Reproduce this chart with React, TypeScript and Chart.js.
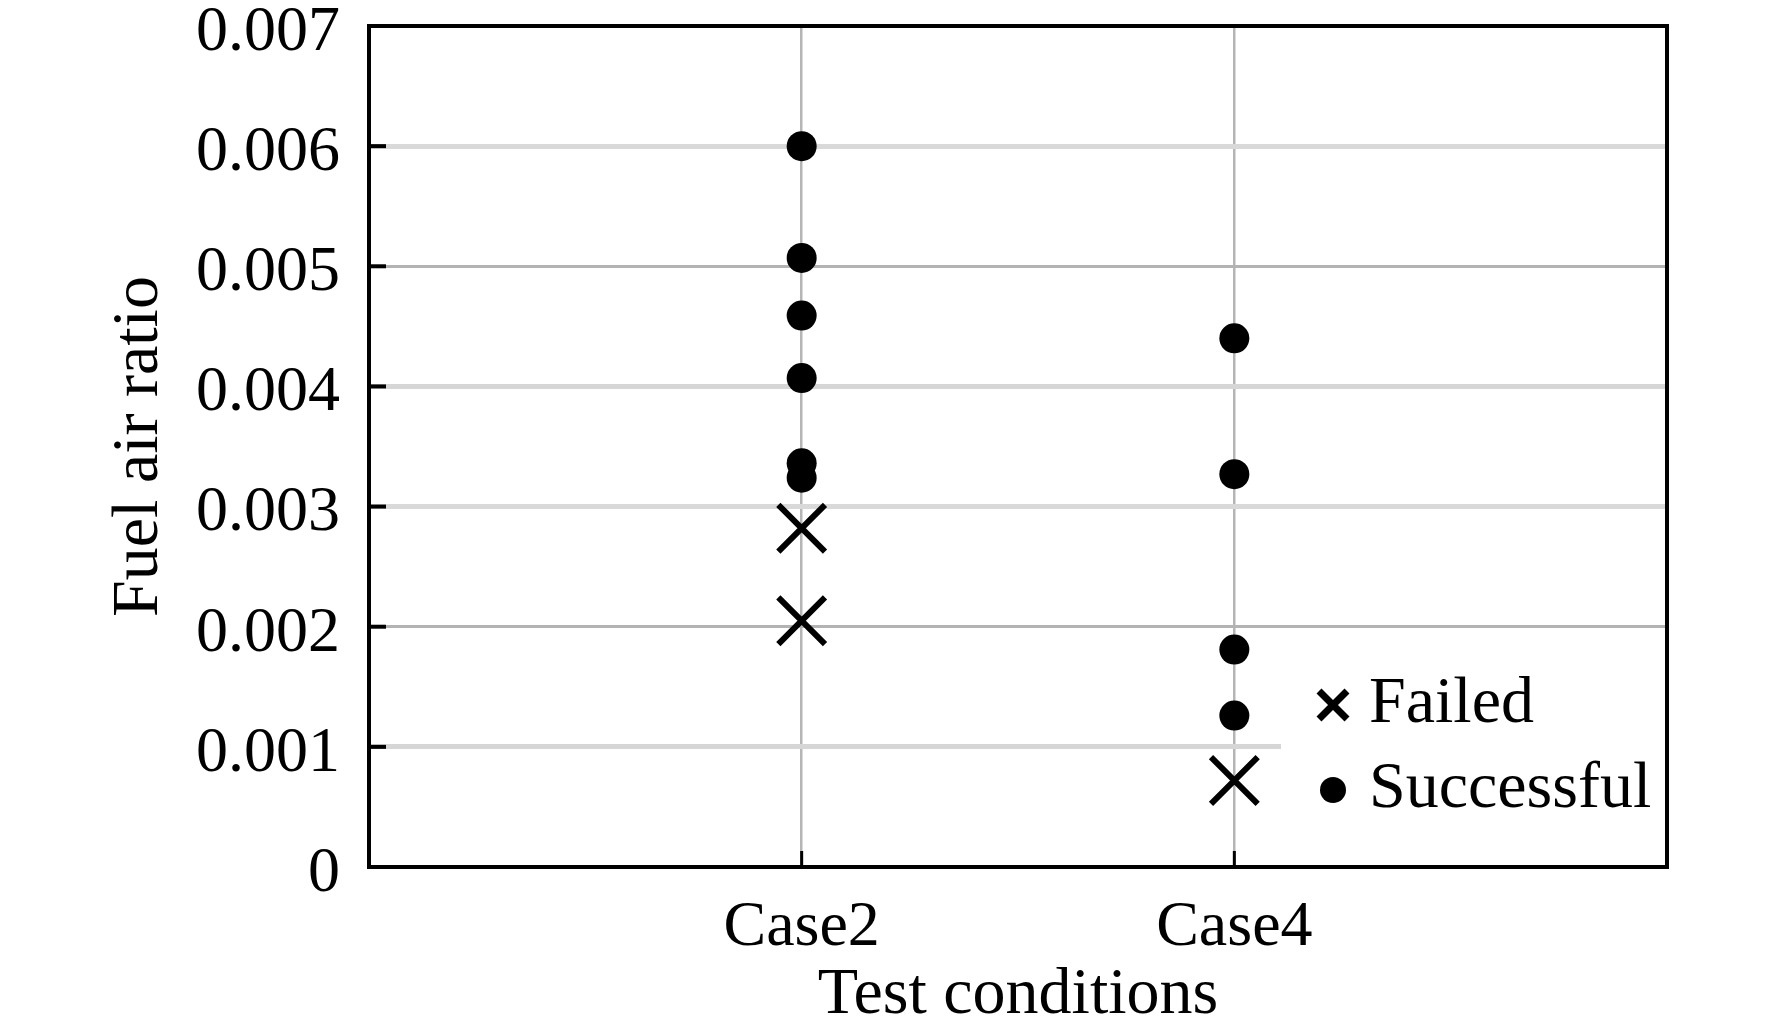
import { Chart, registerables } from "chart.js";
import { useEffect, useRef } from "react";

Chart.register(...registerables);

const categories = ["Case2", "Case4"];
const yTicks = [0, 0.001, 0.002, 0.003, 0.004, 0.005, 0.006, 0.007];

// successful runs per case
const successCase2 = [0.006, 0.00507, 0.00459, 0.00407, 0.00336, 0.00324];
const successCase4 = [0.0044, 0.00327, 0.00181, 0.00126];

// failed runs per case
const failedCase2 = [0.00282, 0.00205];
const failedCase4 = [0.00072];

const legendLabels = ["Failed", "Successful"];

const FONT = "'Liberation Serif', 'Times New Roman', serif";

const toPoints = (idx: number, vals: number[]) => vals.map((v) => ({ x: idx + 1, y: v }));

const framePlugin = {
  id: "frame",
  beforeDatasetsDraw(chart: any) {
    const { ctx, chartArea } = chart;
    // white legend backing
    ctx.save();
    ctx.fillStyle = "#ffffff";
    ctx.fillRect(chartArea.right - 386, chartArea.bottom - 212, 384, 180);
    ctx.restore();
  },
  afterDatasetsDraw(chart: any) {
    const { ctx, chartArea } = chart;
    const mx = chartArea.right - 334;
    const tx = chartArea.right - 298;
    const rows = [chartArea.bottom - 162, chartArea.bottom - 77];
    ctx.save();
    // Failed marker
    ctx.strokeStyle = "#000";
    ctx.lineWidth = 7;
    const h = 14;
    ctx.beginPath();
    ctx.moveTo(mx - h, rows[0] - h);
    ctx.lineTo(mx + h, rows[0] + h);
    ctx.moveTo(mx + h, rows[0] - h);
    ctx.lineTo(mx - h, rows[0] + h);
    ctx.stroke();
    // Successful marker
    ctx.fillStyle = "#000";
    ctx.beginPath();
    ctx.arc(mx, rows[1], 13, 0, Math.PI * 2);
    ctx.fill();
    ctx.font = `66px ${FONT}`;
    ctx.textBaseline = "middle";
    ctx.textAlign = "left";
    legendLabels.forEach((t, i) => ctx.fillText(t, tx, rows[i]));
    ctx.restore();
  },
  afterDraw(chart: any) {
    const { ctx, chartArea, scales } = chart;
    ctx.save();
    ctx.strokeStyle = "#000";
    ctx.lineWidth = 3;
    categories.forEach((_, i) => {
      const x = scales.x.getPixelForValue(i + 1);
      ctx.beginPath();
      ctx.moveTo(x, chartArea.bottom);
      ctx.lineTo(x, chartArea.bottom - 16);
      ctx.stroke();
    });
    ctx.lineWidth = 4;
    yTicks.slice(1, -1).forEach((v) => {
      const y = scales.y.getPixelForValue(v);
      ctx.beginPath();
      ctx.moveTo(chartArea.left, y);
      ctx.lineTo(chartArea.left + 17, y);
      ctx.stroke();
    });
    ctx.lineWidth = 4;
    ctx.strokeRect(chartArea.left, chartArea.top, chartArea.right - chartArea.left, chartArea.bottom - chartArea.top);
    ctx.restore();
  },
};

const App: React.FC = () => {
  const chartRef = useRef<HTMLCanvasElement | null>(null);

  useEffect(() => {
    if (!chartRef.current) return;
    const ctx = chartRef.current.getContext("2d");
    if (!ctx) return;

    const gridColors = ["rgba(0,0,0,0)", "#d6d6d6", "#b3b3b3", "#d9d9d9", "#d6d6d6", "#b3b3b3", "#d9d9d9", "rgba(0,0,0,0)"];
    const gridWidths = [0, 5, 3, 5, 5, 3, 5, 0];

    const myChart = new Chart(ctx, {
      type: "scatter",
      data: {
        datasets: [
          {
            label: legendLabels[0],
            data: [...toPoints(0, failedCase2), ...toPoints(1, failedCase4)],
            pointStyle: "crossRot",
            pointRadius: 33,
            borderColor: "#000",
            backgroundColor: "#000",
            borderWidth: 6,
            pointBorderWidth: 6,
          },
          {
            label: legendLabels[1],
            data: [...toPoints(0, successCase2), ...toPoints(1, successCase4)],
            pointStyle: "circle",
            pointRadius: 15,
            borderWidth: 0,
            borderColor: "#000",
            backgroundColor: "#000",
          },
        ],
      },
      options: {
        animation: false,
        responsive: true,
        maintainAspectRatio: false,
        layout: { autoPadding: false, padding: { left: 100, right: 105, top: 26, bottom: 0 } },
        plugins: {
          legend: { display: false },
          tooltip: { enabled: false },
        },
        scales: {
          x: {
            type: "linear",
            min: 0,
            max: categories.length + 1,
            afterFit: (s: any) => {
              s.height = 168;
              s.paddingLeft = 0;
              s.paddingRight = 0;
            },
            border: { display: false },
            grid: {
              drawTicks: false,
              color: (c: any) => (c.index === 0 || c.index === categories.length + 1 ? "rgba(0,0,0,0)" : "#b5b5b5"),
              lineWidth: 2.5,
            },
            ticks: {
              stepSize: 1,
              padding: 23,
              color: "#000",
              font: { family: FONT, size: 64 },
              callback: (v: any) => categories[Number(v) - 1] ?? "",
            },
            title: {
              display: true,
              text: "Test conditions",
              color: "#000",
              padding: 0,
              font: { family: FONT, size: 66 },
            },
          },
          y: {
            min: 0,
            max: 0.007,
            afterFit: (s: any) => {
              s.width = 269;
              s.paddingTop = 0;
              s.paddingBottom = 0;
            },
            border: { display: false },
            grid: {
              drawTicks: false,
              color: (c: any) => gridColors[c.index] ?? "rgba(0,0,0,0)",
              lineWidth: (c: any) => gridWidths[c.index] ?? 0,
            },
            afterBuildTicks: (s: any) => {
              s.ticks = yTicks.map((v) => ({ value: v }));
            },
            ticks: {
              padding: 29,
              labelOffset: 7,
              color: "#000",
              font: { family: FONT, size: 64, lineHeight: 0.01 },
              callback: (v: any) => (Number(v) === 0 ? "0" : Number(v).toFixed(3)),
            },
            title: {
              display: true,
              text: "Fuel air ratio",
              color: "#000",
              padding: 0,
              font: { family: FONT, size: 66 },
            },
          },
        },
      },
      plugins: [framePlugin],
    });
    return () => myChart.destroy();
  }, []);

  return (
    <div style={{ position: "absolute", left: 0, top: 0, width: "1772px", height: "1035px", background: "#fff" }}>
      <canvas ref={chartRef} />
    </div>
  );
};

export default App;
